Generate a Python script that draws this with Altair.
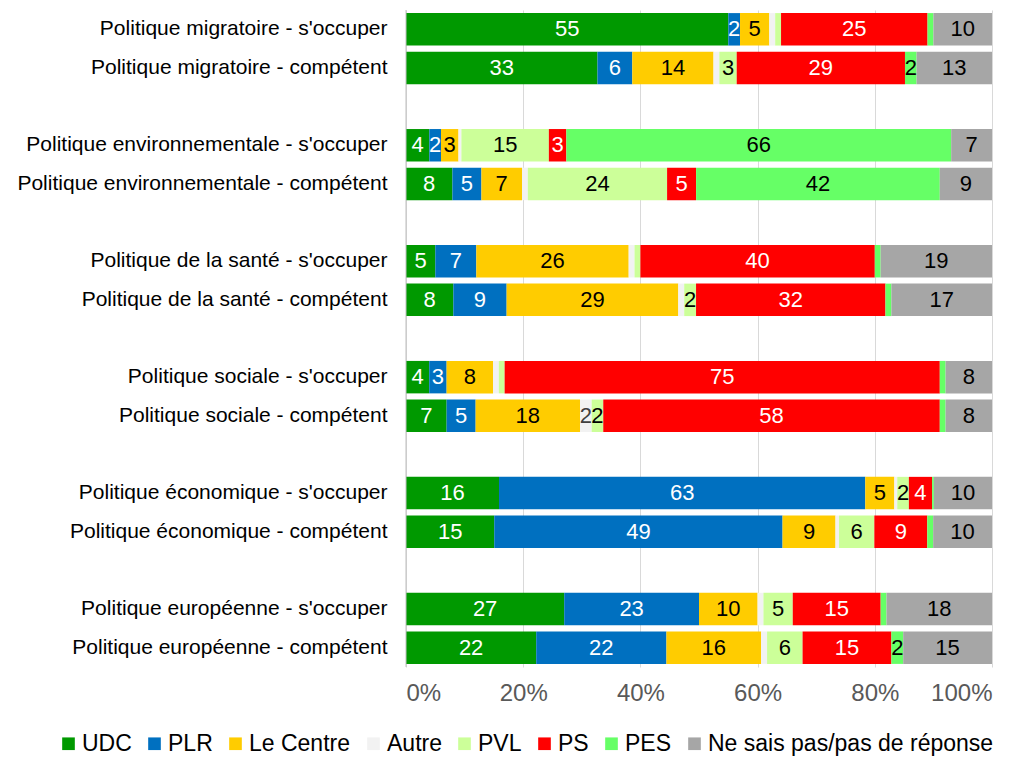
import altair as alt
import pandas as pd

rows = [
    "Politique migratoire - s'occuper",
    "Politique migratoire - compétent",
    "Politique environnementale - s'occuper",
    "Politique environnementale - compétent",
    "Politique de la santé - s'occuper",
    "Politique de la santé - compétent",
    "Politique sociale - s'occuper",
    "Politique sociale - compétent",
    "Politique économique - s'occuper",
    "Politique économique - compétent",
    "Politique européenne - s'occuper",
    "Politique européenne - compétent",
]
parties = ["UDC", "PLR", "Le Centre", "Autre", "PVL", "PS", "PES",
           "Ne sais pas/pas de réponse"]

udc = [55, 33, 4, 8, 5, 8, 4, 7, 16, 15, 27, 22]
plr = [2, 6, 2, 5, 7, 9, 3, 5, 63, 49, 23, 22]
centre = [5, 14, 3, 7, 26, 29, 8, 18, 5, 9, 10, 16]
autre = [1, 1, 0.5, 1, 1, 1, 1, 2, 0.5, 0.6, 1, 1]
pvl = [1, 3, 15, 24, 1, 2, 1, 2, 2, 6, 5, 6]
ps = [25, 29, 3, 5, 40, 32, 75, 58, 4, 9, 15, 15]
pes = [1, 2, 66, 42, 1, 1, 1, 1, 0.3, 1, 1, 2]
nsp = [10, 13, 7, 9, 19, 17, 8, 8, 10, 10, 18, 15]

series = [udc, plr, centre, autre, pvl, ps, pes, nsp]
colors = ["#009900", "#0070C0", "#FFCC00", "#F2F2F2", "#CCFF99",
          "#FF0000", "#66FF66", "#A6A6A6"]
label_colors = ["white", "white", "black", "#404040", "black",
                "white", "black", "black"]

recs = []
for pi, (p, vals) in enumerate(zip(parties, series)):
    for r, v in zip(rows, vals):
        recs.append({"row": r, "party": p, "order": pi, "value": v,
                     "lc": label_colors[pi]})
df = pd.DataFrame(recs)

# y domain with spacer rows between groups
domain = []
for i in range(0, len(rows), 2):
    if i > 0:
        domain.append(f"sp{i}")
    domain.append(rows[i])
    domain.append(rows[i + 1])

FONT = "Liberation Sans"

base = alt.Chart(df).transform_joinaggregate(
    total="sum(value)", groupby=["row"]
).transform_calculate(
    pct="datum.value / datum.total"
).transform_window(
    cum="sum(pct)", sort=[alt.SortField("order")], groupby=["row"],
    frame=[None, 0]
).transform_calculate(
    start="datum.cum - datum.pct",
    mid="datum.cum - datum.pct / 2"
)

yenc = alt.Y("row:N", scale=alt.Scale(domain=domain, paddingInner=0.16,
                                      paddingOuter=0.08),
             axis=alt.Axis(title=None, labelExpr="indexof(datum.label, 'sp') == 0 ? '' : datum.label",
                           labelFontSize=21, labelColor="black", labelFont=FONT,
                           ticks=False, domain=False, labelPadding=19,
                           labelLimit=500))

bars = base.mark_bar().encode(
    x=alt.X("start:Q", scale=alt.Scale(domain=[0, 1]),
            axis=alt.Axis(title=None, format="%", values=[0, 0.2, 0.4, 0.6, 0.8, 1.0],
                          labelFontSize=24, labelColor="#595959", labelFont=FONT,
                          ticks=False, domain=False, grid=True, gridColor="#D9D9D9",
                          labelPadding=14)),
    x2="cum:Q",
    y=yenc,
    color=alt.Color("party:N", scale=alt.Scale(domain=parties, range=colors),
                    legend=alt.Legend(title=None, orient="none", direction="horizontal",
                                      legendX=-349, legendY=722, padding=0,
                                      symbolType="square", symbolSize=160,
                                      symbolStrokeWidth=0,
                                      labelFontSize=23, labelFont=FONT,
                                      labelColor="black", labelOffset=2,
                                      columnPadding=11, labelLimit=400)),
    order=alt.Order("order:Q"),
)

zero = alt.Chart(pd.DataFrame({"x": [0]})).mark_rule(color="#BFBFBF").encode(
    x=alt.X("x:Q"))

texts = base.transform_filter("datum.value >= 1.5").mark_text(
    fontSize=22, font=FONT, baseline="middle", align="center"
).encode(
    x=alt.X("mid:Q"),
    y=alt.Y("row:N"),
    text=alt.Text("value:Q", format=".0f"),
    color=alt.Color("lc:N", scale=None),
)

chart = alt.layer(bars, zero, texts).properties(
    width=586, height=657,
    autosize=alt.AutoSizeParams(type="none"),
    padding={"left": 398, "top": 2, "right": 24, "bottom": 90},
).configure_view(stroke=None)

chart.save("out.html", embed_options={"renderer": "svg", "actions": False})
